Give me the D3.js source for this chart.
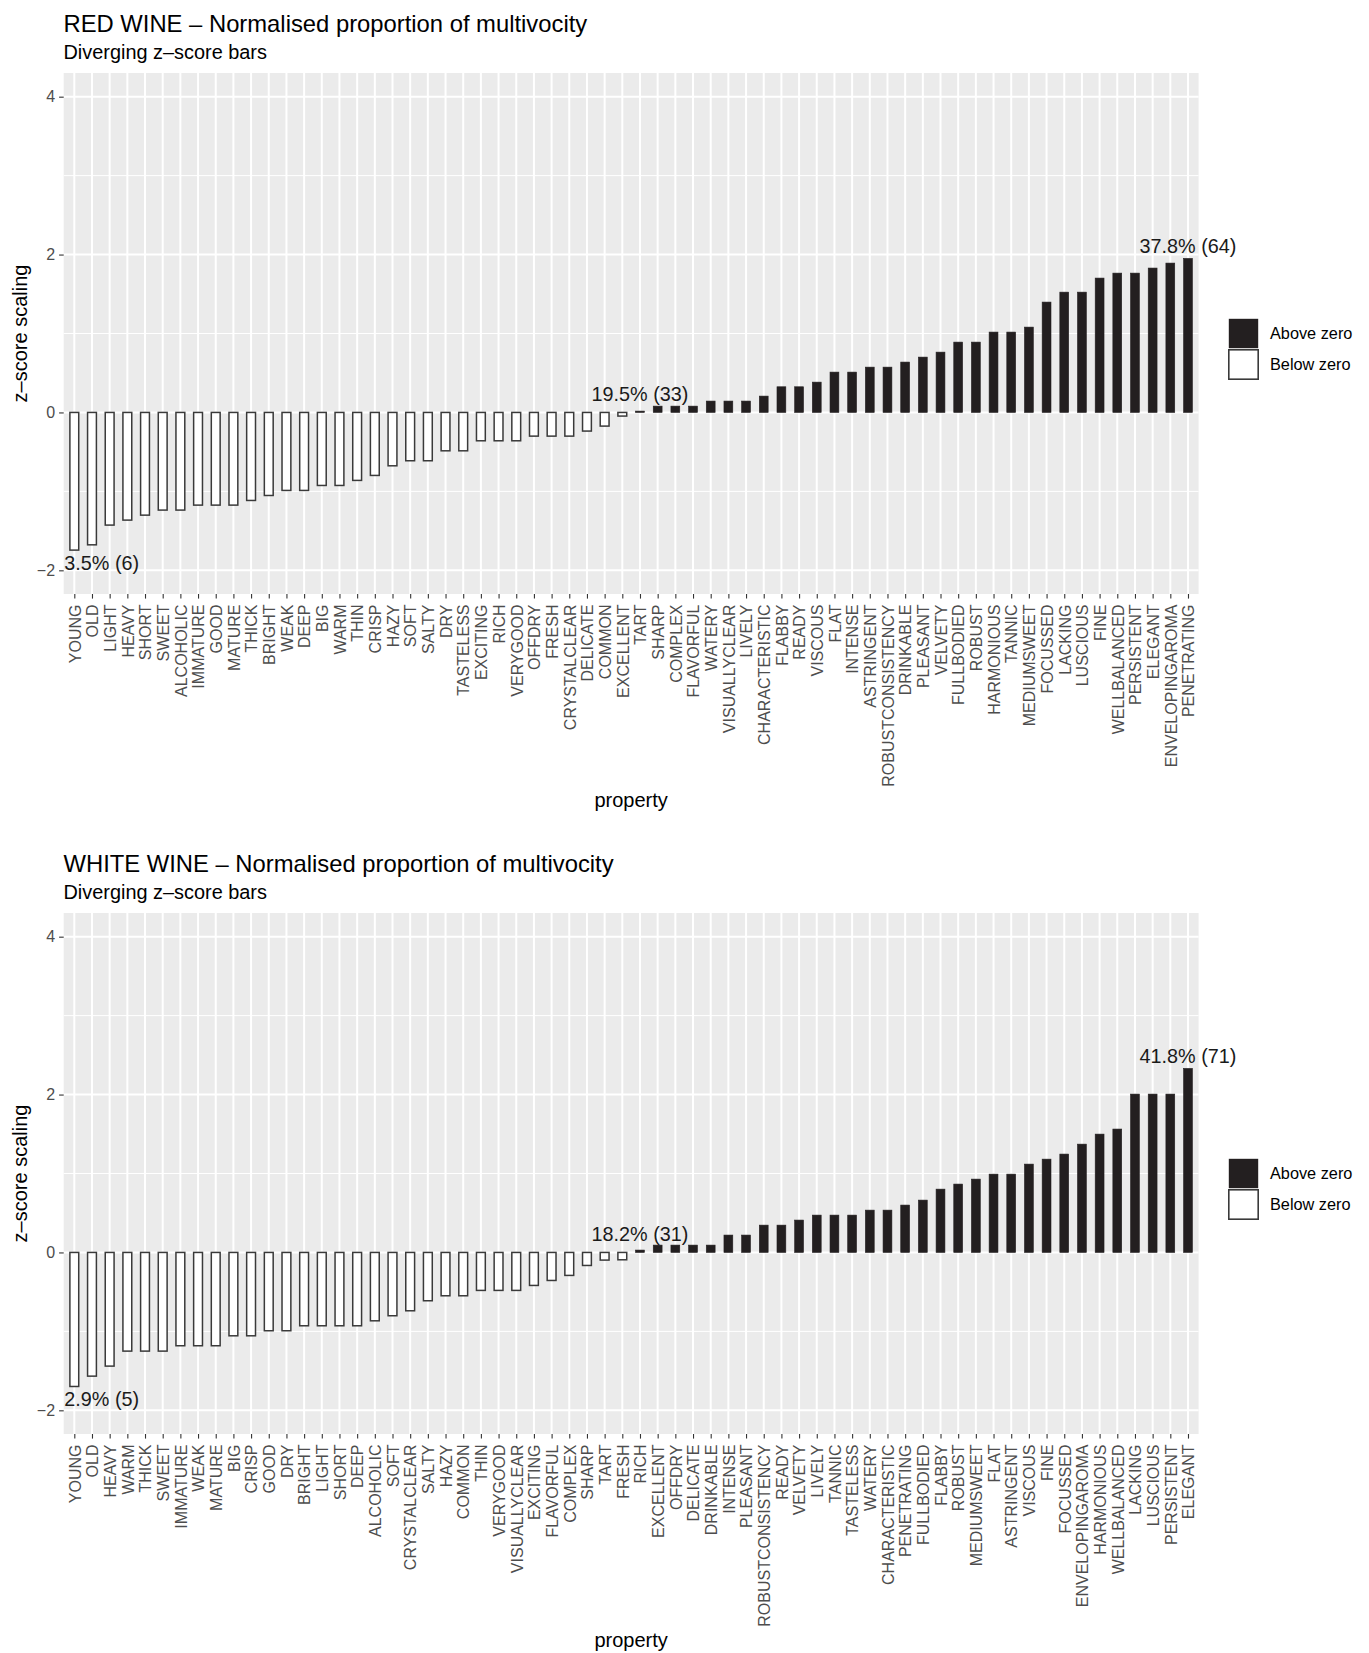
<!DOCTYPE html>
<html>
<head>
<meta charset="utf-8">
<script src="https://cdn.jsdelivr.net/npm/d3@7"></script>
<style>
  html, body { margin: 0; padding: 0; background: #ffffff; }
  svg { display: block; font-family: "Liberation Sans", Arial, Helvetica, sans-serif; }
</style>
</head>
<body>
<svg id="chart" width="1369" height="1653"></svg>
<script>
// ---- Red wine: properties ordered by z-score ----
const redCategories = [
  "YOUNG","OLD","LIGHT","HEAVY","SHORT","SWEET","ALCOHOLIC","IMMATURE","GOOD","MATURE",
  "THICK","BRIGHT","WEAK","DEEP","BIG","WARM","THIN","CRISP","HAZY","SOFT",
  "SALTY","DRY","TASTELESS","EXCITING","RICH","VERYGOOD","OFFDRY","FRESH","CRYSTALCLEAR","DELICATE",
  "COMMON","EXCELLENT","TART","SHARP","COMPLEX","FLAVORFUL","WATERY","VISUALLYCLEAR","LIVELY","CHARACTERISTIC",
  "FLABBY","READY","VISCOUS","FLAT","INTENSE","ASTRINGENT","ROBUSTCONSISTENCY","DRINKABLE","PLEASANT","VELVETY",
  "FULLBODIED","ROBUST","HARMONIOUS","TANNIC","MEDIUMSWEET","FOCUSSED","LACKING","LUSCIOUS","FINE","WELLBALANCED",
  "PERSISTENT","ELEGANT","ENVELOPINGAROMA","PENETRATING"
];
const redValues = [
  -1.744,-1.677,-1.427,-1.364,-1.301,-1.237,-1.237,-1.174,-1.174,-1.174,
  -1.115,-1.052,-0.988,-0.988,-0.925,-0.925,-0.861,-0.798,-0.676,-0.612,
  -0.612,-0.486,-0.486,-0.359,-0.359,-0.359,-0.300,-0.300,-0.300,-0.236,
  -0.173,-0.046,0.017,0.080,0.080,0.080,0.144,0.144,0.144,0.207,
  0.325,0.325,0.384,0.511,0.511,0.574,0.574,0.638,0.701,0.764,
  0.891,0.891,1.018,1.018,1.081,1.398,1.524,1.524,1.702,1.765,
  1.765,1.829,1.892,1.951
];
const redNotes = ["3.5% (6)", "19.5% (33)", "37.8% (64)"];

// ---- White wine: properties ordered by z-score ----
const whiteCategories = [
  "YOUNG","OLD","HEAVY","WARM","THICK","SWEET","IMMATURE","WEAK","MATURE","BIG",
  "CRISP","GOOD","DRY","BRIGHT","LIGHT","SHORT","DEEP","ALCOHOLIC","SOFT","CRYSTALCLEAR",
  "SALTY","HAZY","COMMON","THIN","VERYGOOD","VISUALLYCLEAR","EXCITING","FLAVORFUL","COMPLEX","SHARP",
  "TART","FRESH","RICH","EXCELLENT","OFFDRY","DELICATE","DRINKABLE","INTENSE","PLEASANT","ROBUSTCONSISTENCY",
  "READY","VELVETY","LIVELY","TANNIC","TASTELESS","WATERY","CHARACTERISTIC","PENETRATING","FULLBODIED","FLABBY",
  "ROBUST","MEDIUMSWEET","FLAT","ASTRINGENT","VISCOUS","FINE","FOCUSSED","ENVELOPINGAROMA","HARMONIOUS","WELLBALANCED",
  "LACKING","LUSCIOUS","PERSISTENT","ELEGANT"
];
const whiteValues = [
  -1.698,-1.567,-1.440,-1.250,-1.250,-1.250,-1.182,-1.182,-1.182,-1.056,
  -1.056,-0.992,-0.992,-0.929,-0.929,-0.929,-0.929,-0.866,-0.802,-0.739,
  -0.612,-0.549,-0.549,-0.481,-0.481,-0.481,-0.418,-0.355,-0.291,-0.165,
  -0.097,-0.093,0.030,0.093,0.093,0.093,0.093,0.220,0.220,0.346,
  0.346,0.410,0.473,0.473,0.473,0.536,0.536,0.600,0.663,0.802,
  0.866,0.929,0.992,0.992,1.119,1.182,1.246,1.372,1.499,1.563,
  2.006,2.006,2.006,2.331
];
const whiteNotes = ["2.9% (5)", "18.2% (31)", "41.8% (71)"];

const yTicks = [-2, 0, 2, 4];
const yMinorTicks = [-1, 1, 3];
const yDomain = [-2.3, 4.3];
const legendLabels = ["Above zero", "Below zero"];
const subtitleText = "Diverging z\u2013score bars";
const xTitle = "property";
const yTitle = "z\u2013score scaling";

// ---- layout ----
const M = { left: 63.7, right: 1198.6, top: 73, bottom: 594 };
const BLOCK = 840;
const ABOVE = "#231f20", BELOW_STROKE = "#3a3a3a";
const TICK_TEXT = "#4d4d4d", TICK_LINE = "#333333";
const SMALL = 16;

const svg = d3.select("#chart");

function drawPanel(offsetY, title, categories, values, notes) {
  const g = svg.append("g").attr("transform", `translate(0,${offsetY})`);
  const x = d3.scalePoint().domain(categories).range([M.left, M.right]).padding(0.6);
  const y = d3.scaleLinear().domain(yDomain).range([M.bottom, M.top]);
  const bw = x.step() * 0.5;

  // titles
  g.append("text").attr("x", 63.5).attr("y", 31.5)
    .attr("font-size", 23.8).attr("fill", "#000").text(title);
  g.append("text").attr("x", 63.5).attr("y", 59)
    .attr("font-size", 19.9).attr("fill", "#000").text(subtitleText);

  // panel background
  g.append("rect").attr("x", M.left).attr("y", M.top)
    .attr("width", M.right - M.left).attr("height", M.bottom - M.top)
    .attr("fill", "#ebebeb");

  // grid
  g.append("g").selectAll("line").data(yMinorTicks).join("line")
    .attr("x1", M.left).attr("x2", M.right)
    .attr("y1", d => y(d)).attr("y2", d => y(d))
    .attr("stroke", "#fff").attr("stroke-width", 1);
  g.append("g").selectAll("line").data(yTicks).join("line")
    .attr("x1", M.left).attr("x2", M.right)
    .attr("y1", d => y(d)).attr("y2", d => y(d))
    .attr("stroke", "#fff").attr("stroke-width", 2);
  g.append("g").selectAll("line").data(categories).join("line")
    .attr("x1", d => x(d)).attr("x2", d => x(d))
    .attr("y1", M.top).attr("y2", M.bottom)
    .attr("stroke", "#fff").attr("stroke-width", 2);

  // bars
  const data = categories.map((c, i) => ({ c, v: values[i] }));
  g.append("g").selectAll("rect").data(data).join("rect")
    .attr("x", d => x(d.c) - bw / 2)
    .attr("width", bw)
    .attr("y", d => Math.min(y(d.v), y(0)))
    .attr("height", d => Math.abs(y(d.v) - y(0)))
    .attr("fill", d => d.v > 0 ? ABOVE : "#ffffff")
    .attr("stroke", d => d.v > 0 ? ABOVE : BELOW_STROKE)
    .attr("stroke-width", d => d.v > 0 ? 0.6 : 1.5);

  // value notes
  const first = data[0], mid = data[32], last = data[data.length - 1];
  g.append("text").attr("x", x(first.c) - 10).attr("y", y(first.v) + 20)
    .attr("font-size", 19.8).attr("fill", "#1a1a1a").text(notes[0]);
  g.append("text").attr("x", x(mid.c)).attr("y", y(0) - 11)
    .attr("text-anchor", "middle")
    .attr("font-size", 19.8).attr("fill", "#1a1a1a").text(notes[1]);
  g.append("text").attr("x", x(last.c)).attr("y", y(last.v) - 5.5)
    .attr("text-anchor", "middle")
    .attr("font-size", 19.8).attr("fill", "#1a1a1a").text(notes[2]);

  // y axis
  const yAxis = g.append("g").attr("transform", `translate(${M.left},0)`)
    .call(d3.axisLeft(y).tickValues(yTicks).tickSize(4.6).tickPadding(4)
      .tickFormat(d => d < 0 ? "\u2212" + Math.abs(d) : d));
  yAxis.select(".domain").remove();
  yAxis.selectAll(".tick line").attr("stroke", TICK_LINE).attr("stroke-width", 1.1);
  yAxis.selectAll(".tick text").attr("fill", TICK_TEXT).attr("font-size", SMALL)
    .attr("font-family", "Liberation Sans, Arial, sans-serif");

  // x axis
  const xAxis = g.append("g").attr("transform", `translate(0,${M.bottom})`)
    .call(d3.axisBottom(x).tickSize(4.6).tickPadding(0));
  xAxis.select(".domain").remove();
  xAxis.selectAll(".tick line").attr("stroke", TICK_LINE).attr("stroke-width", 1.1);
  xAxis.selectAll(".tick text")
    .attr("fill", TICK_TEXT).attr("font-size", SMALL)
    .attr("font-family", "Liberation Sans, Arial, sans-serif")
    .attr("text-anchor", "end")
    .attr("transform", "translate(0,10.5) rotate(-90)")
    .attr("x", 0).attr("y", 0).attr("dy", "0.36em");

  // axis titles
  g.append("text").attr("x", (M.left + M.right) / 2).attr("y", 807)
    .attr("text-anchor", "middle").attr("font-size", 20).attr("fill", "#000").text(xTitle);
  g.append("text")
    .attr("transform", `translate(27,${(M.top + M.bottom) / 2}) rotate(-90)`)
    .attr("text-anchor", "middle").attr("font-size", 20).attr("fill", "#000").text(yTitle);

  // legend
  const lg = g.append("g").attr("transform", "translate(1228,318)");
  const keys = [{ fill: ABOVE, stroke: ABOVE, sw: 0 }, { fill: "#fff", stroke: BELOW_STROKE, sw: 1.6 }];
  keys.forEach((k, i) => {
    lg.append("rect").attr("x", 0.8).attr("y", i * 31 + 0.8).attr("width", 29.4).attr("height", 29.4)
      .attr("fill", k.fill).attr("stroke", k.stroke).attr("stroke-width", k.sw);
    lg.append("text").attr("x", 42).attr("y", i * 31 + 15.5).attr("dy", "0.35em")
      .attr("font-size", 16.3).attr("fill", "#000").text(legendLabels[i]);
  });
}

drawPanel(0, "RED WINE \u2013 Normalised proportion of multivocity", redCategories, redValues, redNotes);
drawPanel(BLOCK, "WHITE WINE \u2013 Normalised proportion of multivocity", whiteCategories, whiteValues, whiteNotes);
</script>
</body>
</html>
